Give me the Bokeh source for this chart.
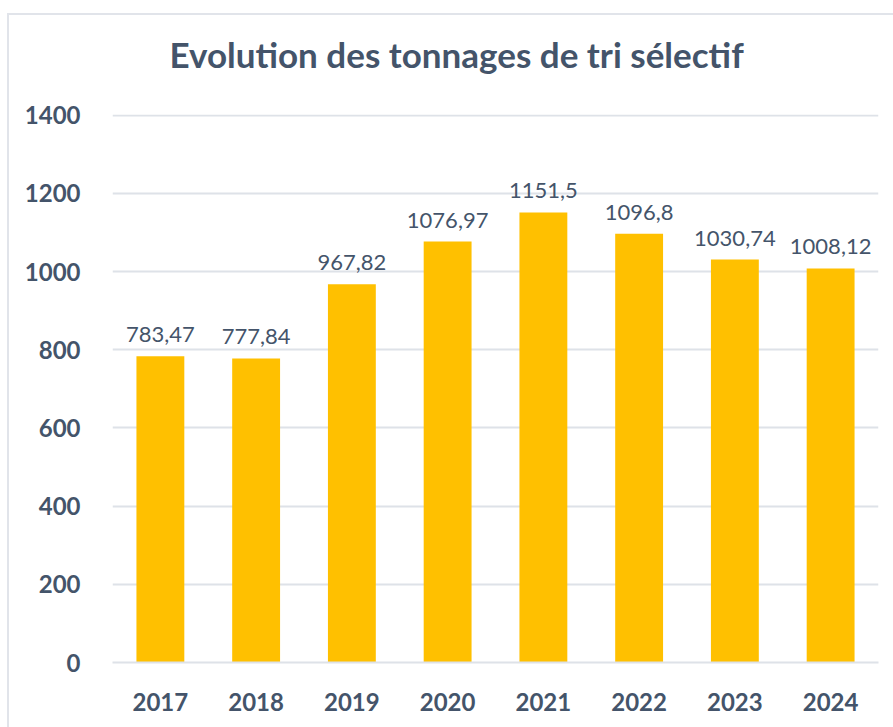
from bokeh.plotting import figure
from bokeh.models import ColumnDataSource, LabelSet, Title, FactorRange
from bokeh.embed import file_html
from bokeh.resources import INLINE
from bokeh.core.properties import value

years = ["2017", "2018", "2019", "2020", "2021", "2022", "2023", "2024"]
tonnages = [783.47, 777.84, 967.82, 1076.97, 1151.5, 1096.8, 1030.74, 1008.12]
value_labels = ["783,47", "777,84", "967,82", "1076,97", "1151,5", "1096,8", "1030,74", "1008,12"]
y_ticks = [0, 200, 400, 600, 800, 1000, 1200, 1400]
title_text = "Evolution des tonnages de tri sélectif"

TEXT = "#44546A"
GRID = "#DEE2E8"
BAR = "#FFC000"
FONT = "Lato"

src = ColumnDataSource(dict(year=years, val=tonnages, lab=value_labels))

p = figure(x_range=FactorRange(*years), y_range=(0, 1402),
           frame_width=766, frame_height=548,
           min_border_left=103, min_border_right=15,
           min_border_top=99, min_border_bottom=65,
           output_backend="svg", toolbar_location=None, title=None)
p.styles = {"border-top": "2px solid #E1E4EA", "border-left": "2px solid #E1E4EA",
            "margin-top": "13px", "margin-left": "7px"}
p.outline_line_color = None
p.background_fill_color = "white"
p.border_fill_color = "white"

p.vbar(x="year", top="val", width=0.5, source=src, color=BAR, line_color=None)

p.add_layout(LabelSet(x="year", y="val", text="lab", source=src,
                      text_align="center", text_baseline="alphabetic", y_offset=14,
                      text_font=value(FONT), text_font_size="22px", text_color=TEXT))

spacer = Title(text=" ", standoff=32, text_font_size="1px", text_color="white")
p.add_layout(spacer, "above")
t = Title(text=title_text, align="left", offset=57, text_font=FONT,
          text_font_style="bold", text_font_size="35px", text_color=TEXT,
          standoff=10)
p.add_layout(t, "above")

p.yaxis.ticker = y_ticks
p.xgrid.grid_line_color = None
p.ygrid.grid_line_color = GRID
p.ygrid.grid_line_width = 2
for ax in (p.xaxis, p.yaxis):
    ax.major_tick_line_color = None
    ax.minor_tick_line_color = None
    ax.major_label_text_font = FONT
    ax.major_label_text_font_style = "bold"
    ax.major_label_text_font_size = "24px"
    ax.major_label_text_color = TEXT
p.yaxis.axis_line_color = None
p.xaxis.axis_line_color = GRID
p.xaxis.axis_line_width = 2
p.yaxis.major_label_standoff = 26
p.xaxis.major_label_standoff = 24

open("out.html", "w").write(file_html(p, INLINE))
